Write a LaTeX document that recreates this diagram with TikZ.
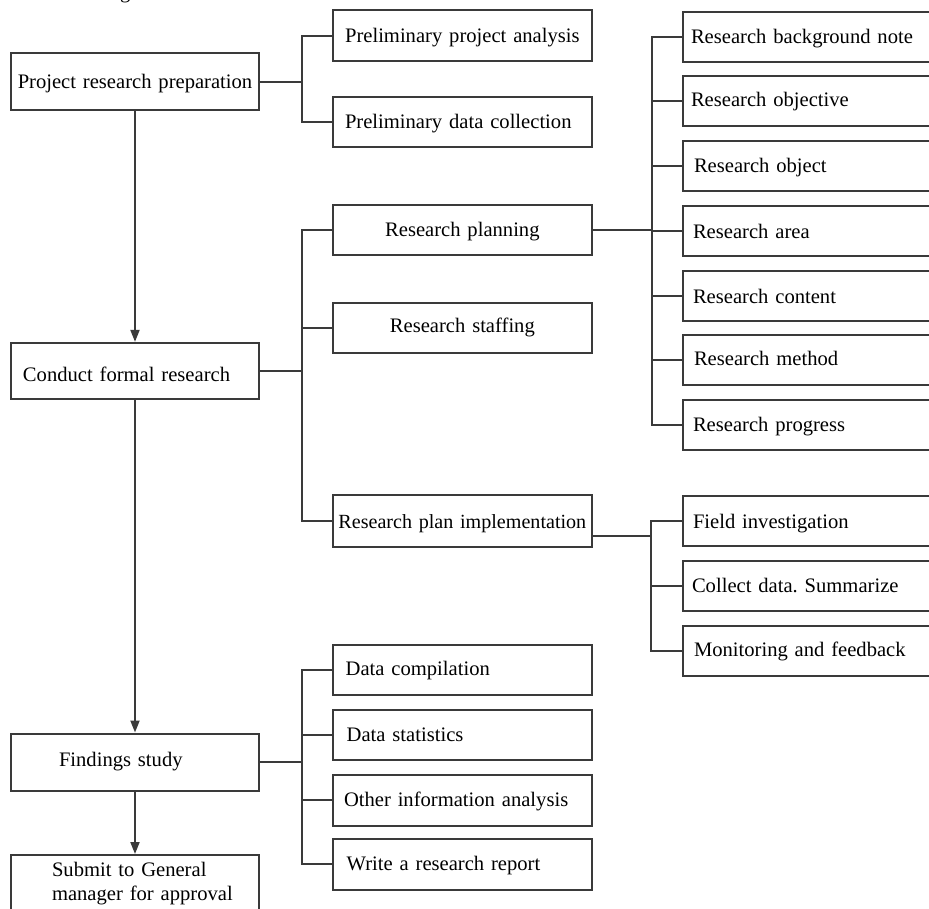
\documentclass[tikz,border=0pt]{standalone}
\usepackage{fontspec}
\setmainfont{Liberation Serif}
\usetikzlibrary{arrows.meta}
\definecolor{ink}{RGB}{58,58,58}
\frenchspacing
% text set inside a box, indented from its left edge
\newcommand\boxtxt[2]{\hspace*{#1pt}\mbox{#2}}
\begin{document}
\begin{tikzpicture}[x=1pt,y=-1pt,
  box/.style={draw=ink, line width=2pt, fill=white, inner xsep=0pt, inner ysep=0pt,
    minimum height=#1, text height=13pt, text depth=0pt, align=left,
    font=\fontsize{20.6}{24}\selectfont},
  box/.default=50.5pt,
  th/.style={text height=#1},
  lcol/.style={text width=248pt},
  mcol/.style={text width=258.7pt},
  rcol/.style={text width=262pt},
  ctr/.style={align=center},
  conn/.style={draw=ink, line width=2pt},
  flow/.style={conn, -{Triangle[length=12pt,width=9pt]}}
]
\fill[white] (0,0) rectangle (929,909);
\useasboundingbox (0,0) rectangle (929,909);

% descender of the caption line above
\node[anchor=base west, inner sep=0pt, font=\fontsize{20.6}{24}\selectfont] (capfrag) at (120,-1.5) {g};

% main stages
\node[box=57pt, lcol, ctr, th=13.6pt] (prep) at (135,82) {\mbox{Project research preparation}};
\node[box=56.3pt, lcol, th=21.4pt] (conduct) at (135,371) {\boxtxt{12}{Conduct formal research}};
\node[box=57pt, lcol, th=8.4pt] (findings) at (135,762) {\boxtxt{48}{Findings study}};
\node[box=57pt, lcol, text height=, text depth=] (submit) at (135,883.5)
  {\boxtxt{41}{Submit to General}\\\boxtxt{41}{manager for approval}};

% second level
\node[box=51pt, mcol, ctr] (ppa) at (462.35,36) {\mbox{Preliminary project analysis}};
\node[box=50pt, mcol] (pdc) at (462.35,122) {\boxtxt{12}{Preliminary data collection}};
\node[box=50.7pt, mcol, ctr] (plan) at (462.35,230) {\mbox{Research planning}};
\node[box=50pt, mcol, ctr, th=10pt] (staff) at (462.35,328) {\mbox{Research staffing}};
\node[box=52.7pt, mcol, ctr, th=14pt, font=\fontsize{20.1}{24}\selectfont] (impl) at (462.35,521) {\mbox{Research plan implementation}};
\node[box=50pt, mcol, th=11.4pt] (datac) at (462.35,670) {\boxtxt{12.7}{Data compilation}};
\node[box=50.7pt, mcol] (stats) at (462.35,735) {\boxtxt{13.7}{Data statistics}};
\node[box=51pt, mcol] (other) at (462.35,800) {\boxtxt{11}{Other information analysis}};
\node[box=51pt, mcol] (write) at (462.35,864) {\boxtxt{13.7}{Write a research report}};

% research planning items
\node[box, rcol] (bg) at (814,37) {\boxtxt{8}{Research background note}};
\node[box, rcol, th=10.8pt] (obj) at (814,101) {\boxtxt{8}{Research objective}};
\node[box, rcol] (object) at (814,166) {\boxtxt{11}{Research object}};
\node[box, rcol, th=16pt] (area) at (814,231) {\boxtxt{10}{Research area}};
\node[box, rcol, th=15.6pt] (content) at (814,296) {\boxtxt{10}{Research content}};
\node[box, rcol, th=11.4pt] (method) at (814,360) {\boxtxt{11}{Research method}};
\node[box, rcol] (progress) at (814,425) {\boxtxt{10}{Research progress}};

% implementation items
\node[box, rcol, th=14pt] (field) at (814,521) {\boxtxt{10}{Field investigation}};
\node[box, rcol] (collect) at (814,586) {\boxtxt{9}{Collect data. Summarize}};
\node[box, rcol, th=10.4pt] (monitor) at (814,651) {\boxtxt{11}{Monitoring and feedback}};

% bus lines
\coordinate (busL) at (302,0);
\coordinate (busR) at (652,0);
\coordinate (busI) at (651,0);
\coordinate (implout) at ([yshift=-15pt]impl.east);

\draw[conn] (prep.east) -- (prep.east -| busL);
\draw[conn] (ppa.west) -- (ppa.west -| busL) -- (pdc.west -| busL) -- (pdc.west);

\draw[conn] (conduct.east) -- (conduct.east -| busL);
\draw[conn] (plan.west) -- (plan.west -| busL) -- (impl.west -| busL) -- (impl.west);
\draw[conn] (staff.west) -- (staff.west -| busL);

\draw[conn] (findings.east) -- (findings.east -| busL);
\draw[conn] (datac.west) -- (datac.west -| busL) -- (write.west -| busL) -- (write.west);
\foreach \n in {stats,other} \draw[conn] (\n.west) -- (\n.west -| busL);

\draw[conn] (plan.east) -- (plan.east -| busR);
\draw[conn] (bg.west) -- (bg.west -| busR) -- (progress.west -| busR) -- (progress.west);
\foreach \n in {obj,object,area,content,method} \draw[conn] (\n.west) -- (\n.west -| busR);

\draw[conn] (implout) -- (implout -| busI);
\draw[conn] (field.west) -- (field.west -| busI) -- (monitor.west -| busI) -- (monitor.west);
\draw[conn] (collect.west) -- (collect.west -| busI);

% main flow
\draw[flow] (prep.south) -- (conduct.north);
\draw[flow] (conduct.south) -- (findings.north);
\draw[flow] (findings.south) -- (submit.north);
\end{tikzpicture}
\end{document}
